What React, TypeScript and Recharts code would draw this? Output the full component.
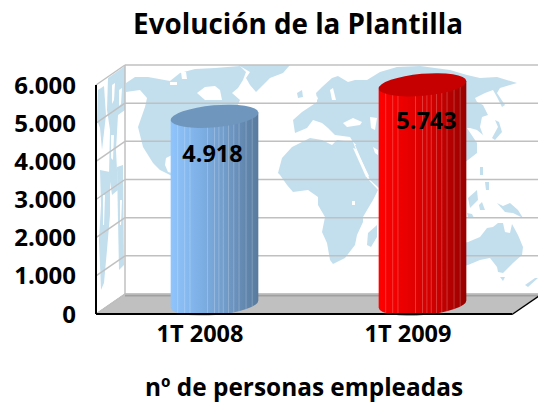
import React from 'react';
import { BarChart, Bar, XAxis, YAxis, CartesianGrid, LabelList } from 'recharts';

const categories = ['1T 2008', '1T 2009'];
const empleados = [4918, 5743];
const yTicks = [0, 1000, 2000, 3000, 4000, 5000, 6000];

const data = categories.map((periodo, i) => ({ periodo, empleados: empleados[i] }));

const FONT = '"Open Sans", sans-serif';
const DX = 29; // profundidad de la caja 3D
const DY = 20;
const MAP_BLUE = '#c3dfee';

const palettes = [
  { id: 'azul', top: '#6f96bd', stops: ['#8fc4fc', '#7eb0e6', '#6f98c4', '#587a9e'] },
  { id: 'rojo', top: '#c60000', stops: ['#ff0000', '#e80000', '#cc0000', '#980000'] },
];
const stripes = [0.08, 0.16, 0.22, 0.42, 0.5, 0.55, 0.6, 0.66, 0.72, 0.78, 0.86, 0.93];

const fmt = (v: number) => String(v).replace(/\B(?=(\d{3})+$)/g, '.');

// contornos del mapa de fondo
const land = [
  '126,83 135,77 148,77 170,81 180,73 195,69 215,68 240,66 246,72 243,80 238,88 232,93 240,100 237,107 230,140 190,165 172,176 160,170 153,163 143,147 138,127 145,107 147,98 140,90 126,92',
  '238,65 290,65 283,73 270,78 256,92 250,85 246,78 250,72',
  '297,93 302,90 303,97 298,98',
  '295,133 293,120 302,112 317,102 317,99 316,93 322,87 332,78 338,76 348,82 355,80 367,80 380,72 397,67 420,66 450,70 467,75 480,78 497,77 517,83 510,85 500,88 497,93 505,105 502,107 497,97 493,90 485,93 475,98 477,102 483,105 488,115 482,117 480,127 483,135 477,130 470,128 467,128 477,143 477,153 468,160 440,180 420,170 405,185 390,165 378,170 370,155 362,150 353,142 350,137 335,135 328,128 322,123 313,120 307,128',
  '355,145 379,145 379,188 370,180',
  '292,147 310,138 322,140 332,145 337,140 353,142 360,160 367,178 378,190 373,200 363,217 363,222 357,235 355,245 345,258 333,264 330,260 327,243 322,232 325,217 318,205 318,197 308,190 293,192 287,185 280,175 278,173 282,158',
  '367,245 368,233 377,225 377,237 371,247',
  '495,120 499,122 502,132 495,140 492,138 498,127',
  '480,167 483,167 483,175 480,175',
  '485,182 489,182 489,190 486,190',
  '468,198 477,190 478,200 470,208',
  '479,205 482,202 485,210 480,210',
  '497,203 503,206 510,203 518,210 523,218 513,213 505,212',
  '467,213 472,214 474,218 468,217',
  '455,245 468,242 480,237 487,228 493,227 498,223 503,223 505,232 510,233 512,224 518,235 523,247 522,255 513,263 503,273 498,272 497,267 490,258 480,260 468,265 455,268',
  '500,277 505,277 503,281',
  '525,285 535,278 538,278 528,287',
];
const water = [
  '172,155 166,158 165,165 168,172 172,173',
  '197,93 205,87 215,86 220,90 222,100 205,100',
  '170,82 177,82 177,85 170,85',
  '181,72 186,72 187,79 182,79',
  '343,123 353,118 362,122 360,125 347,127',
  '370,117 377,118 375,130 371,128',
  '373,147 378,150 378,155 375,153',
  '353,148 356,149 369,176 366,177',
  '330,90 333,88 336,100 332,100',
  '352,201 355,201 355,205 352,205',
  '300,108 317,96 318,99 302,111',
];
// el mapa comprimido de la pared lateral
const sideLand = [
  '108,78 125,66 125,110 118,115 116,150 118,190 112,195 109,175 110,130 107,110',
  '98,90 104,86 106,115 102,150 100,128 97,120',
  '100,170 110,172 110,215 107,250 104,283 101,290 99,240 101,205',
  '117,167 123,165 124,265 119,270 118,220',
];
const sideWater = [
  '112,85 115,83 114,100 112,104',
  '119,90 122,88 121,104 119,106',
  '111,135 114,135 113,160 111,158',
  '103,195 105,195 104,225 103,225',
  '120,200 122,200 121,225 120,225',
];

function WorldMap() {
  return (
    <>
      {land.map((p, i) => <polygon key={i} points={p} fill={MAP_BLUE} />)}
      {water.map((p, i) => <polygon key={i} points={p} fill="#fff" />)}
    </>
  );
}

function Backdrop() {
  return (
    <svg width={538} height={403} style={{ position: 'absolute', left: 0, top: 0 }}>
      <defs>
        <clipPath id="backWall"><rect x={125} y={65} width={416} height={229} /></clipPath>
        <clipPath id="sideWall"><polygon points="96,85 125,65 125,294 96,314" /></clipPath>
      </defs>
      <g clipPath="url(#backWall)"><WorldMap /></g>
      <g clipPath="url(#sideWall)">
        {sideLand.map((p, i) => <polygon key={i} points={p} fill={MAP_BLUE} />)}
        {sideWater.map((p, i) => <polygon key={i} points={p} fill="#fff" />)}
      </g>
      <line x1={125} y1={65} x2={125} y2={294} stroke="#c0c0c0" strokeWidth={1.5} />
      <polygon points="96,314 125,294 541,294 512,314" fill="#c0c0c0" />
      <line x1={96} y1={314} x2={125} y2={294} stroke="#a0a0a0" />
      <line x1={125} y1={295} x2={538} y2={295} stroke="#a0a0a0" strokeWidth={3} />
      <line x1={512} y1={314.5} x2={541} y2={294.5} stroke="#000" strokeWidth={1.5} />
      <text x={298} y={34} textAnchor="middle" fontFamily={FONT} fontWeight={700} fontSize={27.8} fill="#000">
        Evolución de la Plantilla
      </text>
    </svg>
  );
}

// línea de rejilla: diagonal en la pared lateral y recta en la del fondo
function wallLine(props: any) {
  const { x1, y1, x2, key } = props;
  return (
    <g key={key ?? y1}>
      <line x1={x1} y1={y1} x2={x1 + DX} y2={y1 - DY} stroke="#c0c0c0" strokeWidth={1.5} />
      <line x1={x1 + DX} y1={y1 - DY} x2={x2 + DX} y2={y1 - DY} stroke="#c0c0c0" strokeWidth={1.5} />
    </g>
  );
}

function Cylinder(props: any) {
  const { x, y, width, height, index } = props;
  const pal = palettes[index];
  const cx = x + width / 2 + DX / 2;
  const yTop = y - DY / 2;
  const yBot = y + height - DY / 2;
  const rx = width / 2;
  const ry = 11;
  const tilt = -5;
  const ex = rx * Math.cos((tilt * Math.PI) / 180);
  const ey = rx * Math.sin((tilt * Math.PI) / 180);
  const body =
    `M${cx - ex},${yTop - ey} L${cx + ex},${yTop + ey} L${cx + ex},${yBot + ey} ` +
    `A${rx},${ry} ${tilt} 0 1 ${cx - ex},${yBot - ey} Z`;
  return (
    <g>
      <defs>
        <linearGradient id={pal.id} x1="0" y1="0" x2="1" y2="0">
          {pal.stops.map((c, i) => <stop key={i} offset={i / (pal.stops.length - 1)} stopColor={c} />)}
        </linearGradient>
        <clipPath id={`${pal.id}-clip`}><path d={body} /></clipPath>
      </defs>
      <path d={body} fill={`url(#${pal.id})`} />
      <g clipPath={`url(#${pal.id}-clip)`}>
        {stripes.map((s) => (
          <line key={s} x1={cx - ex + s * 2 * ex} y1={yTop - 20} x2={cx - ex + s * 2 * ex} y2={yBot + 20}
            stroke="#fff" strokeOpacity={0.22} strokeWidth={1} />
        ))}
      </g>
      <ellipse cx={cx} cy={yTop} rx={rx} ry={ry} fill={pal.top} transform={`rotate(${tilt} ${cx} ${yTop})`} />
    </g>
  );
}

function ValueLabel(props: any) {
  const { x, y, width, value, index } = props;
  const nudge = [-2, 4][index];
  return (
    <text x={x + width / 2 + DX / 2 + nudge} y={y + [29, 28][index]} textAnchor="middle" fontFamily={FONT}
      fontWeight={700} fontSize={23.5} fill="#000" dominantBaseline="middle">
      {fmt(value)}
    </text>
  );
}

export default function App() {
  return (
    <div style={{ position: 'absolute', left: 0, top: 0, width: 538, height: 403 }}>
      <Backdrop />
      <div style={{ position: 'absolute', left: 0, top: 0 }}>
        <BarChart width={538} height={403} data={data} barSize={88}
          margin={{ top: 85, right: 26, bottom: 0, left: 0 }}>
          <CartesianGrid vertical={false} horizontal={wallLine} />
          <XAxis dataKey="periodo" tickLine={false} axisLine={{ stroke: '#000', strokeWidth: 2 }}
            tick={{ fontFamily: FONT, fontWeight: 700, fontSize: 23.5, fill: '#000' }} tickMargin={5}
            height={89}
            label={{ value: 'nº de personas empleadas', position: 'insideBottom', offset: 7,
              style: { fontFamily: FONT, fontWeight: 700, fontSize: 24.4, fill: '#000' } }} />
          <YAxis domain={[0, 6000]} ticks={yTicks} width={96} tickFormatter={fmt} tickLine={false}
            axisLine={{ stroke: '#000', strokeWidth: 2 }} tickMargin={14} interval={0}
            tick={{ fontFamily: FONT, fontWeight: 700, fontSize: 24, fill: '#000' }} />
          <Bar dataKey="empleados" shape={Cylinder} isAnimationActive={false}>
            <LabelList dataKey="empleados" content={ValueLabel} />
          </Bar>
        </BarChart>
      </div>
    </div>
  );
}
